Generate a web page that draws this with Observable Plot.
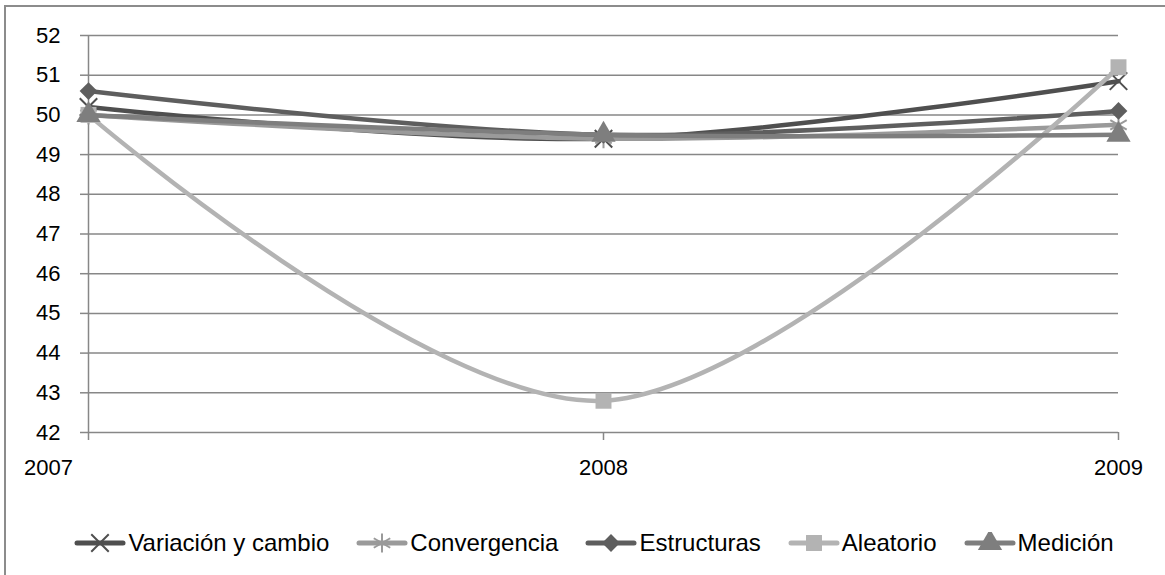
<!DOCTYPE html>
<html><head><meta charset="utf-8">
<script src="https://cdn.jsdelivr.net/npm/d3@7"></script>
<script src="https://cdn.jsdelivr.net/npm/@observablehq/plot@0.6"></script>
<style>
body{margin:0;background:#fff;font-family:"Liberation Sans",Arial,sans-serif;}
#wrap{position:relative;width:1165px;height:575px;overflow:hidden;background:#fff;}
#frame{position:absolute;left:4px;top:5px;width:1170px;height:580px;border-top:2px solid #8c8c8c;border-left:2px solid #8c8c8c;}
#chart{position:absolute;left:0;top:0;}
#legend{position:absolute;left:11px;top:528px;width:1165px;height:30px;display:flex;justify-content:center;align-items:center;gap:26px;font-size:24px;color:#000;}
.item{display:flex;align-items:center;white-space:nowrap;}
.item svg{display:block;margin-right:1px;}
</style></head><body>
<div id="wrap"><div id="frame"></div><div id="chart"></div><div id="legend"></div></div>
<script>
const years = [2007, 2008, 2009];
const yTicks = [42, 43, 44, 45, 46, 47, 48, 49, 50, 51, 52];
const seriesNames = ["Variación y cambio", "Convergencia", "Estructuras", "Aleatorio", "Medición"];
const variacion = [50.2, 49.4, 50.85];
const convergencia = [50.0, 49.4, 49.75];
const estructuras = [50.6, 49.5, 50.1];
const aleatorio = [50.0, 42.8, 51.2];
const medicion = [50.0, 49.5, 49.5];

const seriesValues = [variacion, convergencia, estructuras, aleatorio, medicion];
const colors = ["#4f4f4f", "#9a9a9a", "#5e5e5e", "#b3b3b3", "#7e7e7e"];
const symbols = ["times", "asterisk", "diamond2", "square", "triangle"];
const d3symbols = [d3.symbolTimes, d3.symbolAsterisk, d3.symbolDiamond2, d3.symbolSquare, d3.symbolTriangle];
const strokeSym = [true, true, false, false, false];
const radii = [8, 9, 8, 9, 9];

const grid = "#878787";
const marks = [
  Plot.gridY(yTicks, {stroke: grid, strokeOpacity: 1, strokeWidth: 1.5}),
  Plot.axisY(yTicks, {tickSize: 8, tickPadding: 20, fontSize: 22, stroke: grid, strokeWidth: 1.5, fill: "#000", label: null, tickFormat: d => String(d)}),
  Plot.ruleX([years[0]], {stroke: grid, strokeWidth: 1.5}),
  Plot.axisX(years, {tickSize: 8, stroke: grid, strokeWidth: 1.5, text: null, label: null}),
  Plot.text(years.slice(0, 1), {x: d => d, frameAnchor: "bottom", dy: 42, dx: -40, text: d => String(d), fontSize: 22, fill: "#000"}),
  Plot.text(years.slice(1), {x: d => d, frameAnchor: "bottom", dy: 42, text: d => String(d), fontSize: 22, fill: "#000"})
];
seriesNames.forEach((name, i) => {
  const rows = years.map((yr, j) => ({year: yr, value: seriesValues[i][j], series: name}));
  marks.push(Plot.line(rows, {x: "year", y: "value", stroke: colors[i], strokeWidth: 4.5, curve: "cardinal", strokeLinecap: "round"}));
  marks.push(Plot.dot(rows, {x: "year", y: "value", symbol: () => symbols[i], r: radii[i],
    fill: strokeSym[i] ? "none" : colors[i], stroke: strokeSym[i] ? colors[i] : "none", strokeWidth: 2}));
});

const chart = Plot.plot({
  width: 1165, height: 500,
  marginLeft: 88, marginRight: 47, marginTop: 35, marginBottom: 68,
  style: {fontFamily: '"Liberation Sans", Arial, sans-serif', background: "transparent"},
  x: {type: "linear", domain: [2007, 2009], axis: null, label: null},
  y: {domain: [42, 52], axis: null, label: null},
  symbol: {type: "identity"},
  marks
});
document.getElementById("chart").appendChild(chart);

const legend = d3.select("#legend");
seriesNames.forEach((name, i) => {
  const it = legend.append("div").attr("class", "item");
  const s = it.append("svg").attr("width", 54).attr("height", 22);
  s.append("line").attr("x1", 4).attr("x2", 50).attr("y1", 11).attr("y2", 11)
    .attr("stroke", colors[i]).attr("stroke-width", 5).attr("stroke-linecap", "round");
  s.append("path").attr("transform", "translate(27,11)")
    .attr("d", d3.symbol(d3symbols[i], Math.PI * radii[i] * radii[i])())
    .attr("fill", strokeSym[i] ? "none" : colors[i])
    .attr("stroke", strokeSym[i] ? colors[i] : "none").attr("stroke-width", 2);
  it.append("span").text(name);
});
</script>
</body></html>
